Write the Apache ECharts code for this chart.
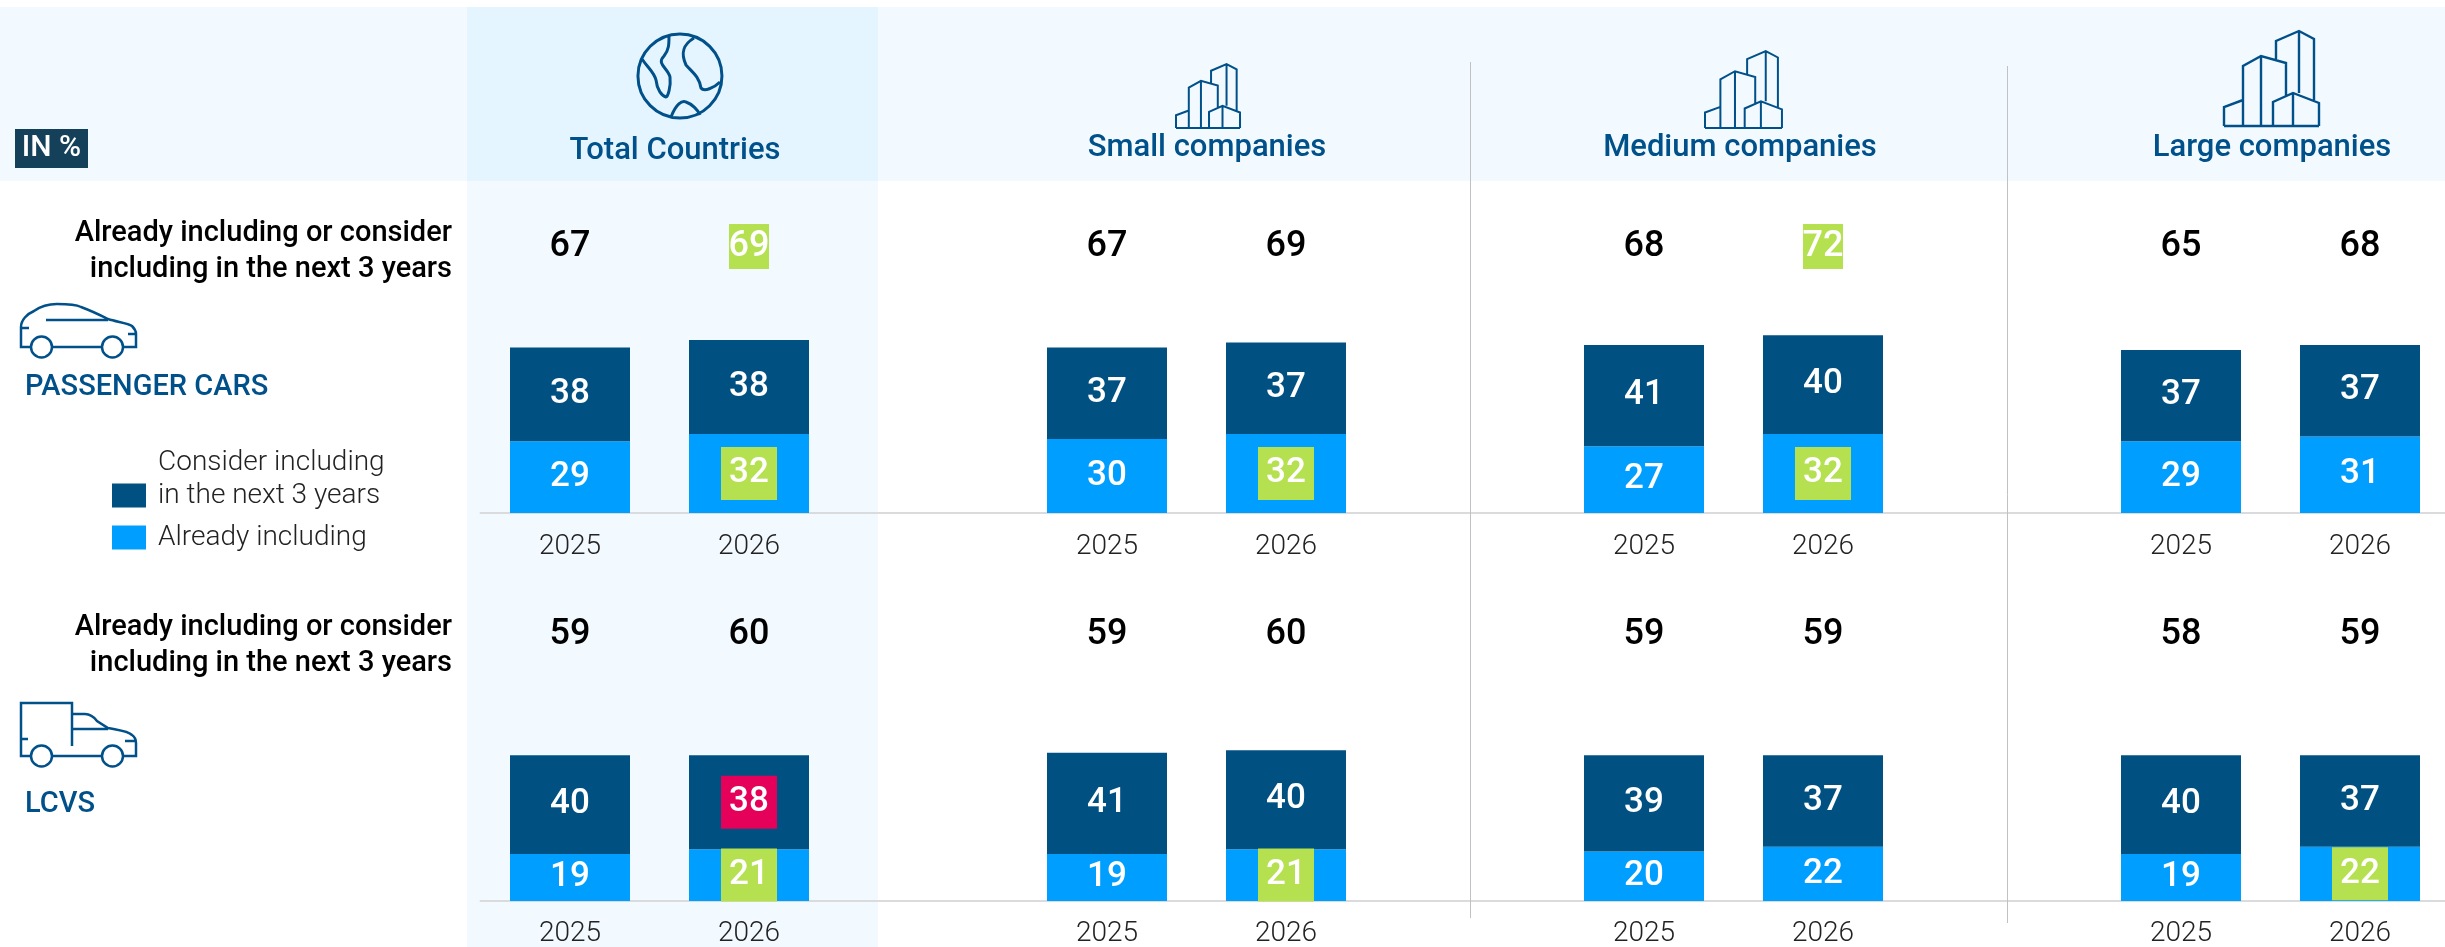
<!DOCTYPE html>
<html><head><meta charset="utf-8">
<style>html,body{margin:0;padding:0;background:#fff}#c{width:2445px;height:947px}</style>
<script src="https://cdn.jsdelivr.net/npm/echarts@6/dist/echarts.min.js"></script>
</head><body><div id="c"></div>
<script>
// ---- data ----
const categories = ['2025','2026','','2025','2026','','2025','2026','','2025','2026'];
const panelNames = ['Total Countries','Small companies','Medium companies','Large companies'];
const seriesAlready = 'Already including';
const seriesConsider = 'Consider including in the next 3 years';

const carsAlready  = [29,32,null,30,32,null,27,32,null,29,31];
const carsConsider = [38,38,null,37,37,null,41,40,null,37,37];
const carsTotals   = ['67','69','','67','69','','68','72','','65','68'];

const lcvAlready   = [19,21,null,19,21,null,20,22,null,19,22];
const lcvConsider  = [40,38,null,41,40,null,39,37,null,40,37];
const lcvTotals    = ['59','60','','59','60','','59','59','','58','59'];

// highlighted cells, by category index
const carsAlreadyGreen = [1,4,7];
const carsTotalsGreen  = [1,7];
const lcvAlreadyGreen  = [1,4,10];
const lcvConsiderRed   = [1];
const lcvTotalsGreen   = [];

// ---- styles ----
const FONT='Roboto';
const DARK='#005082', LIGHT='#009fff', NAVY='#00508a', GREEN='#b5e04f', RED='#e5005a';
const H=247;

function cells(values,green,red){
  return values.map((v,i)=>{
    if(green.includes(i)||red.includes(i)){
      return {value:v,label:{backgroundColor:green.includes(i)?GREEN:RED,width:56,height:53,lineHeight:53,align:'center',verticalAlign:'middle'}};
    }
    return v;
  });
}
function barSeries(name,values,stack,idx,color,green,red){
  return {type:'bar',name,stack,xAxisIndex:idx,yAxisIndex:idx,barWidth:120,
    itemStyle:{color},data:cells(values,green,red),silent:true,
    label:{show:true,position:'inside',color:'#fff',fontFamily:FONT,fontSize:35,fontWeight:500,offset:[0,-1]},
    labelLayout:{hideOverlap:false}};
}
function yearAxis(gi,margin){
  return {type:'category',gridIndex:gi,data:categories,position:'bottom',
    axisLine:{show:true,onZero:false,lineStyle:{color:'#d9dbdd',width:2}},axisTick:{show:false},
    axisLabel:{interval:0,margin,fontFamily:FONT,fontSize:28,fontWeight:300,color:'#222'}};
}
function totalAxis(gi,totals,green){
  return {type:'category',gridIndex:gi,data:totals,position:'top',
    axisLine:{show:false},axisTick:{show:false},
    axisLabel:{interval:0,margin:-3,
      formatter:(v,i)=>v===''?'':(green.includes(i)?'{g|'+v+'}':'{n|'+v+'}'),
      rich:{
        n:{fontFamily:FONT,fontSize:36,fontWeight:500,color:'#000',height:45,lineHeight:45,align:'center'},
        g:{fontFamily:FONT,fontSize:36,fontWeight:500,color:'#fff',backgroundColor:GREEN,width:40,height:45,lineHeight:45,align:'center'}
      }}};
}
function valueAxis(gi){return {type:'value',gridIndex:gi,min:0,max:100,show:false};}

// ---- icon paths (decoration) ----
const globe='M42 0A42 42 0 1 1 41.9 0ZM31 2C31 10 31 16 26 22C18 30 30 34 32 43C33 52 30 63 28 63C24 62 19 56 18 46C16 38 10 34 4 25M56 4C46 10 42 18 48 31C54 38 61 42 63 54C66 58 76 54 82 48M33 83C38 70 44 66 48 68C54 70 60 76 62 81';
const building='M0 95V76L19 69M19 95V35L37 25L62 32V66M52 30V10L75 0L90 8V69M75 0V62M37 25V95M49 95V71L69 62L95 72V95M69 62V95M0 95H95';
const car='M10 43H0V23C0 16 6 10 13 7C20 2 28 0 36 0C46 0 54 0 60 3C68 6 77 10 87 15C96 18 107 19 111 22C114 25 115 27 115 30V43H102M31 43H80M25 16H87M0 24H8M107 30H115M31 43A10.5 10.5 0 1 1 10 43A10.5 10.5 0 1 1 31 43ZM102 43A10.5 10.5 0 1 1 81 43A10.5 10.5 0 1 1 102 43Z';
const van='M10 53H0V0H51V43M51 11H64C70 11 73 14 76 18L87 25C96 27 107 28 111 32C114 34 115 37 115 40V53H102M31 53H80M51 26H87M0 36H7M104 38H115M31 53A10.5 10.5 0 1 1 10 53A10.5 10.5 0 1 1 31 53ZM102 53A10.5 10.5 0 1 1 81 53A10.5 10.5 0 1 1 102 53Z';
const G=echarts.graphic;
G.registerShape('iconGlobe',G.extendPath(globe,{}));
G.registerShape('iconBuilding',G.extendPath(building,{}));
G.registerShape('iconCar',G.extendPath(car,{}));
G.registerShape('iconVan',G.extendPath(van,{}));
function icon(type,x,y,w,s){return {type,x,y,scaleX:s||1,scaleY:s||1,silent:true,z:5,style:{fill:'none',stroke:NAVY,lineWidth:w,strokeNoScale:true}};}
function rect(x,y,w,h,fill,z){return {type:'rect',silent:true,z:z||0,shape:{x,y,width:w,height:h},style:{fill}};}
function vline(x,y1,y2){return {type:'line',silent:true,z:1,shape:{x1:x,y1,x2:x,y2},style:{stroke:'#bfc1c3',lineWidth:1}};}
function txt(t,x,y,o){return {type:'text',silent:true,z:6,x,y,style:Object.assign({text:t,fontFamily:FONT,verticalAlign:'middle'},o)};}
function panelHead(t,x,y){return txt(t,x,y,{fontSize:31,fontWeight:500,fill:NAVY,align:'center'});}
const rowLabel='Already including or consider\nincluding in the next 3 years';
function rowText(y){return txt(rowLabel,452,y,{fontSize:29,fontWeight:500,fill:'#000',align:'right',lineHeight:36});}

const option={
  animation:false,backgroundColor:'#fff',
  grid:[
    {left:480.5,top:513-H,width:1969,height:H,outerBoundsMode:'none'},
    {left:480.5,top:901-H,width:1969,height:H,outerBoundsMode:'none'}
  ],
  xAxis:[yearAxis(0,20),yearAxis(1,19),totalAxis(0,carsTotals,carsTotalsGreen),totalAxis(1,lcvTotals,lcvTotalsGreen)],
  yAxis:[valueAxis(0),valueAxis(1)],
  legend:{show:true,left:112,top:446,padding:0,orient:'vertical',selectedMode:false,itemWidth:34,itemHeight:24,itemGap:-24,
    data:[{name:seriesConsider,icon:'rect',itemStyle:{color:DARK}},{name:seriesAlready,icon:'rect',itemStyle:{color:LIGHT}}],
    formatter:n=>n===seriesConsider?'Consider including\nin the next 3 years\n ':n,
    textStyle:{fontFamily:FONT,fontSize:28,fontWeight:300,color:'#222',lineHeight:33,padding:[0,0,0,7]}},
  series:[
    barSeries(seriesAlready,carsAlready,'cars',0,LIGHT,carsAlreadyGreen,[]),
    barSeries(seriesConsider,carsConsider,'cars',0,DARK,[],[]),
    barSeries(seriesAlready,lcvAlready,'lcv',1,LIGHT,lcvAlreadyGreen,[]),
    barSeries(seriesConsider,lcvConsider,'lcv',1,DARK,[],lcvConsiderRed)
  ],
  graphic:{elements:[
    rect(0,7,2445,174,'#f2f9ff',-10),
    rect(467,181,411,766,'#f2f9ff',-10),
    rect(467,7,411,174,'#e5f5ff',-9),
    vline(1470.5,62,918),
    vline(2007.5,66,923),
    rect(15,129,73,39,'#14405a',2),
    txt('IN %',51.5,148,{fontSize:30,fontWeight:500,fill:'#fff',align:'center'}),
    panelHead(panelNames[0],675,151),
    panelHead(panelNames[1],1207,148),
    panelHead(panelNames[2],1740,148),
    panelHead(panelNames[3],2272,148),
    icon('iconGlobe',638,34,3),
    icon('iconBuilding',1176,64,2,0.674),
    icon('iconBuilding',1705,51,2,0.81),
    icon('iconBuilding',2224,31,2.4,1),
    icon('iconCar',21,304,2.5),
    icon('iconVan',21,703,2.5),
    rowText(252),
    rowText(646),
    txt('PASSENGER CARS',25,388,{fontSize:29,fontWeight:500,fill:NAVY}),
    txt('LCVS',25,805,{fontSize:29,fontWeight:500,fill:NAVY})
  ]}
};
echarts.init(document.getElementById('c'),null,{renderer:'canvas'}).setOption(option);
</script></body></html>
